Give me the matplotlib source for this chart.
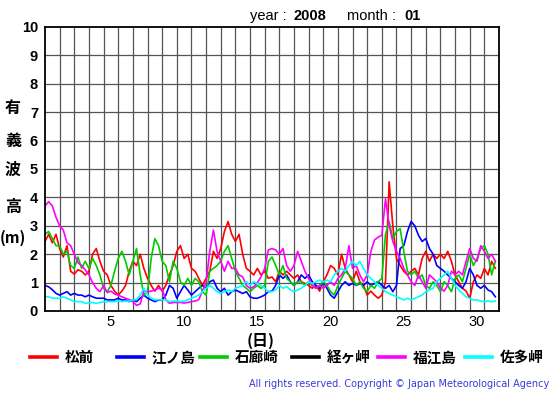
import numpy as np
import matplotlib
matplotlib.use("Agg")
import matplotlib.pyplot as plt
from matplotlib.lines import Line2D

# ---- data (6-hourly significant wave height, m) ----
year_label = "2008"
month_label = "01"
stations = ["松前", "江ノ島", "石廊崎", "経ヶ岬", "福江島", "佐多岬"]
colors = ["#ff0000", "#0000ff", "#00cc00", "#000000", "#ff00ff", "#00ffff"]
step_days = 0.25
xtick_days = [5, 10, 15, 20, 25, 30]
ytick_vals = list(range(0, 11))

matsumae = [2.45, 2.7, 2.4, 2.7, 2.2, 1.9, 2.3, 1.4, 1.3, 1.45, 1.4, 1.27,
            1.4, 2.0, 2.2, 1.75, 1.4, 1.27, 0.9, 0.7, 0.56, 0.7, 0.9, 1.4,
            1.75, 1.6, 2.0, 1.5, 1.15, 0.9, 0.7, 0.9, 0.7, 0.9, 1.27, 1.6,
            2.1, 2.3, 1.85, 2.0, 1.5, 1.4, 1.15, 0.9, 1.15, 1.4, 2.1, 1.85,
            2.2, 2.8, 3.15, 2.7, 2.45, 2.7, 2.0, 1.5, 1.4, 1.27, 1.5, 1.27,
            1.4, 1.15, 1.2, 1.03, 1.4, 1.27, 1.4, 1.27, 1.15, 1.27, 1.03, 0.97,
            0.9, 0.8, 0.9, 0.7, 1.03, 1.27, 1.6, 1.5, 1.27, 2.0, 1.5, 1.27,
            1.03, 1.4, 1.03, 0.9, 0.56, 0.7, 0.56, 0.45, 0.56, 1.03, 4.55, 3.0,
            1.85, 1.6, 1.4, 1.27, 1.4, 1.5, 1.27, 1.85, 2.1, 1.75, 2.0, 1.85,
            2.0, 1.85, 2.1, 1.75, 1.27, 1.03, 0.8, 0.7, 0.45, 1.03, 1.27, 1.15,
            1.5, 1.27, 1.75, 1.5]
enoshima = [0.9, 0.85, 0.75, 0.62, 0.56, 0.62, 0.68, 0.56, 0.62, 0.56, 0.56, 0.5,
            0.56, 0.5, 0.45, 0.45, 0.45, 0.39, 0.39, 0.39, 0.45, 0.39, 0.39, 0.33,
            0.39, 0.33, 0.45, 0.56, 0.45, 0.39, 0.33, 0.39, 0.39, 0.56, 0.9, 0.8,
            0.45, 0.68, 0.9, 0.74, 0.56, 0.68, 0.8, 0.9, 0.8, 1.03, 1.09, 0.8,
            0.68, 0.8, 0.56, 0.68, 0.74, 0.68, 0.62, 0.68, 0.5, 0.45, 0.45, 0.5,
            0.56, 0.68, 0.7, 0.9, 1.27, 1.15, 1.27, 1.03, 0.9, 1.03, 1.27, 1.15,
            1.27, 1.03, 0.9, 0.8, 1.03, 0.8, 0.56, 0.45, 0.68, 0.9, 1.03, 0.9,
            0.97, 0.9, 0.97, 0.9, 1.03, 0.9, 0.97, 1.03, 0.9, 0.8, 0.9, 0.68,
            0.9, 2.2, 2.3, 2.8, 3.15, 3.0, 2.67, 2.45, 2.55, 2.2, 2.0, 1.6,
            1.5, 1.4, 1.27, 1.15, 1.03, 0.9, 0.8, 1.03, 1.5, 1.27, 0.9, 0.8,
            0.9, 0.74, 0.68, 0.5]
irozaki = [2.7, 2.8, 2.55, 2.3, 2.3, 2.0, 2.1, 1.6, 1.5, 1.9, 1.5, 1.75,
           1.5, 1.85, 1.6, 1.27, 0.8, 0.68, 0.9, 1.4, 1.85, 2.1, 1.75, 1.27,
           1.75, 2.2, 1.27, 0.56, 0.68, 1.85, 2.55, 2.3, 1.75, 1.6, 1.03, 1.75,
           1.5, 1.03, 0.9, 1.15, 0.9, 1.15, 1.03, 0.68, 0.56, 1.4, 1.5, 1.6,
           1.75, 2.1, 2.3, 1.85, 1.4, 1.15, 0.9, 0.8, 0.68, 0.8, 0.9, 0.8,
           0.9, 1.75, 1.9, 1.6, 1.27, 1.6, 1.15, 1.03, 0.9, 1.03, 1.03, 0.9,
           1.03, 0.9, 0.8, 0.9, 1.03, 0.9, 0.68, 0.56, 0.9, 1.15, 1.4, 1.27,
           1.15, 0.9, 1.03, 0.8, 0.68, 0.9, 0.8, 1.03, 1.15, 2.7, 3.15, 2.55,
           2.8, 2.9, 2.1, 1.4, 1.27, 1.4, 1.15, 1.27, 0.9, 0.8, 1.03, 0.9,
           0.68, 1.03, 0.9, 0.68, 1.15, 1.27, 1.03, 1.5, 2.0, 1.6, 1.85, 2.2,
           2.3, 2.0, 1.27, 1.75]
kyogamisaki = []
fukuejima = [3.7, 3.85, 3.7, 3.3, 3.0, 2.85, 2.4, 2.3, 2.0, 1.7, 1.6, 1.45,
             1.27, 1.0, 0.8, 0.68, 0.9, 0.65, 0.7, 0.6, 0.56, 0.5, 0.45, 0.4,
             0.33, 0.2, 0.25, 0.7, 0.68, 0.7, 0.74, 0.8, 0.75, 0.4, 0.27, 0.3,
             0.3, 0.3, 0.28, 0.3, 0.33, 0.35, 0.4, 0.7, 1.0, 2.1, 2.85, 2.1,
             1.75, 1.4, 1.75, 1.5, 1.5, 1.27, 1.2, 0.9, 0.8, 0.85, 1.0, 1.2,
             1.5, 2.15, 2.2, 2.15, 2.0, 2.2, 1.6, 1.4, 1.6, 2.1, 1.75, 1.4,
             1.15, 0.9, 0.8, 0.9, 0.8, 0.9, 1.03, 0.9, 1.15, 1.27, 1.5, 2.3,
             1.5, 1.6, 1.27, 1.03, 1.27, 2.1, 2.5, 2.6, 2.67, 3.95, 3.0, 2.45,
             2.1, 1.85, 1.5, 1.27, 1.03, 0.9, 1.27, 1.03, 0.8, 1.27, 1.15, 1.03,
             0.8, 0.7, 0.9, 1.4, 1.27, 1.4, 1.27, 1.75, 2.2, 1.85, 1.75, 2.3,
             2.1, 1.85, 2.0, 1.75]
satamisaki = [0.5, 0.5, 0.45, 0.45, 0.45, 0.5, 0.45, 0.39, 0.33, 0.33, 0.33, 0.27,
              0.3, 0.3, 0.27, 0.3, 0.33, 0.33, 0.33, 0.33, 0.35, 0.33, 0.35, 0.35,
              0.39, 0.4, 0.56, 0.8, 0.56, 0.45, 0.39, 0.4, 0.39, 0.39, 0.33, 0.35,
              0.35, 0.33, 0.35, 0.39, 0.45, 0.5, 0.56, 0.68, 0.8, 0.9, 0.8, 0.68,
              0.62, 0.68, 0.74, 0.68, 0.8, 0.85, 0.9, 1.03, 0.9, 1.03, 0.97, 0.9,
              0.8, 0.68, 0.68, 0.74, 0.9, 0.8, 0.86, 0.74, 0.68, 0.74, 0.8, 0.9,
              1.03, 0.97, 1.03, 1.09, 1.03, 1.09, 1.03, 1.27, 1.4, 1.5, 1.4, 1.6,
              1.75, 1.6, 1.75, 1.5, 1.27, 1.15, 1.03, 0.9, 0.8, 0.68, 0.62, 0.56,
              0.5, 0.45, 0.39, 0.45, 0.39, 0.45, 0.5, 0.56, 0.68, 0.74, 0.8, 1.03,
              1.15, 1.27, 1.4, 1.15, 0.9, 0.74, 0.62, 0.5, 0.45, 0.39, 0.39, 0.35,
              0.33, 0.35, 0.33, 0.35]

series = [matsumae, enoshima, irozaki, kyogamisaki, fukuejima, satamisaki]

# ---- figure ----
W, H = 555, 395
fig = plt.figure(figsize=(W / 100, H / 100), dpi=100)
ax = fig.add_axes([45 / W, (H - 311) / H, 454 / W, 284 / H])

for vals, col in zip(series, colors):
    if len(vals) == 0:
        continue
    t = np.arange(len(vals)) * step_days
    ax.plot(t, vals, color=col, lw=1.2, solid_joinstyle="round")

ax.set_xlim(0, 31)
ax.set_ylim(0, 10)
ax.set_xticks([d - 0.5 for d in xtick_days])
ax.set_xticklabels([str(d) for d in xtick_days], fontsize=10.5,
                   family="Liberation Sans")
ax.set_yticks(ytick_vals)
ax.set_yticklabels([str(v) for v in ytick_vals], fontsize=10.5,
                   family="Liberation Sans", fontweight="bold")
ax.tick_params(axis="both", which="both", length=0)
ax.tick_params(axis="x", pad=3)
ax.tick_params(axis="y", pad=5)
ax.grid(False)
for d in range(1, 31):
    ax.axvline(d, color="#555555", lw=0.9, zorder=0)
for v in range(1, 10):
    ax.axhline(v, color="#555555", lw=0.9, zorder=0)
for s in ax.spines.values():
    s.set_linewidth(1.3)
    s.set_color("black")

cjk = ["Noto Sans CJK JP", "DejaVu Sans"]

# title
fig.text(250 / W, 1 - 16 / H, "year : ", fontsize=10.5, family="Liberation Sans",
         va="center", ha="left")
fig.text(293 / W, 1 - 16 / H, year_label, fontsize=10.5, family="Liberation Sans",
         fontweight="bold", va="center", ha="left")
fig.text(347 / W, 1 - 16 / H, "month : ", fontsize=10.5, family="Liberation Sans",
         va="center", ha="left")
fig.text(404 / W, 1 - 16 / H, month_label, fontsize=10.5, family="Liberation Sans",
         fontweight="bold", va="center", ha="left")

# y label, vertical characters
for ch, yy in zip(["有", "義", "波", "高"], [108, 141, 170, 207]):
    fig.text(13 / W, 1 - yy / H, ch, fontsize=11.5, family=cjk, fontweight="bold",
             ha="center", va="center")
fig.text(13 / W, 1 - 238 / H, "(m)", fontsize=11, family=cjk, fontweight="bold",
         ha="center", va="center")

# x label
fig.text(261 / W, 1 - 341 / H, "(日)", fontsize=11.5, family=cjk, fontweight="bold",
         ha="center", va="center")

# legend row
leg_line_x = [30, 117, 200, 292, 378, 465]
for name, col, lx in zip(stations, colors, leg_line_x):
    y = 1 - 357 / H
    fig.add_artist(Line2D([lx / W, (lx + 27) / W], [y, y], color=col, lw=2.6))
    fig.text((lx + 35) / W, y, name, fontsize=10.5, family=cjk, fontweight="bold",
             ha="left", va="center")

# copyright
fig.text(549 / W, 1 - 384 / H,
         "All rights reserved. Copyright \u00a9 Japan Meteorological Agency",
         fontsize=7, family="DejaVu Sans", color="#3a3ad8", ha="right", va="center")

fig.savefig("out.png", dpi=100)
